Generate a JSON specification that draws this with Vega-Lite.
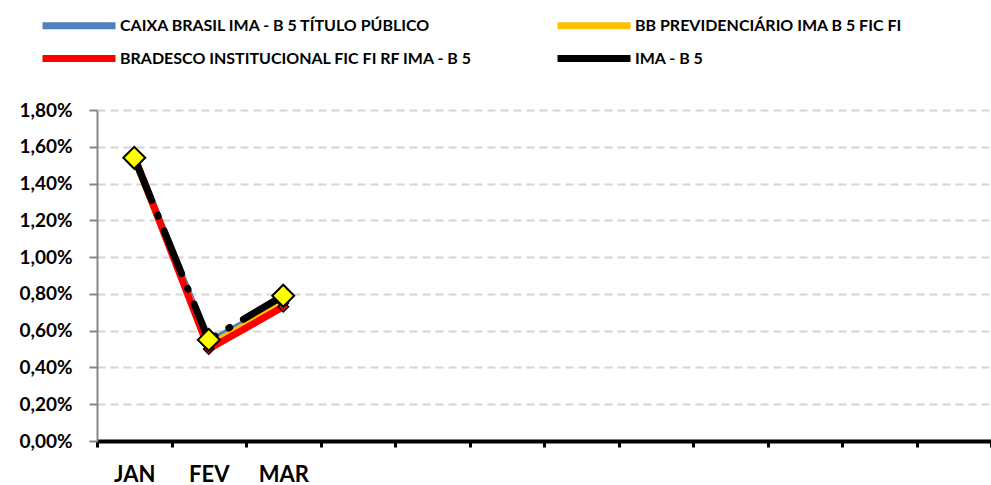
{
  "$schema": "https://vega.github.io/schema/vega-lite/v6.json",
  "width": 894,
  "height": 331,
  "autosize": {"type": "none"},
  "padding": {"left": 97, "top": 110, "right": 0, "bottom": 44},
  "background": "white",
  "config": {
    "view": {"stroke": null},
    "font": "Lato"
  },
  "data": {
    "values": [
      {"month": "JAN", "series": "CAIXA BRASIL IMA - B 5 TÍTULO PÚBLICO", "value": 0.0155},
      {"month": "FEV", "series": "CAIXA BRASIL IMA - B 5 TÍTULO PÚBLICO", "value": 0.0054},
      {"month": "MAR", "series": "CAIXA BRASIL IMA - B 5 TÍTULO PÚBLICO", "value": 0.0076},
      {"month": "JAN", "series": "BB PREVIDENCIÁRIO IMA B 5 FIC FI", "value": 0.0153},
      {"month": "FEV", "series": "BB PREVIDENCIÁRIO IMA B 5 FIC FI", "value": 0.0052},
      {"month": "MAR", "series": "BB PREVIDENCIÁRIO IMA B 5 FIC FI", "value": 0.0075},
      {"month": "JAN", "series": "BRADESCO INSTITUCIONAL FIC FI RF IMA - B 5", "value": 0.0155},
      {"month": "FEV", "series": "BRADESCO INSTITUCIONAL FIC FI RF IMA - B 5", "value": 0.0050},
      {"month": "MAR", "series": "BRADESCO INSTITUCIONAL FIC FI RF IMA - B 5", "value": 0.0073},
      {"month": "JAN", "series": "IMA - B 5", "value": 0.0154},
      {"month": "FEV", "series": "IMA - B 5", "value": 0.0055},
      {"month": "MAR", "series": "IMA - B 5", "value": 0.0079}
    ]
  },
  "encoding": {
    "x": {
      "field": "month",
      "type": "nominal",
      "sort": null,
      "scale": {"domain": ["JAN", "FEV", "MAR", "ABR", "MAI", "JUN", "JUL", "AGO", "SET", "OUT", "NOV", "DEZ"], "paddingInner": 0, "paddingOuter": 0},
      "axis": {
        "title": null,
        "labelAngle": 0,
        "labelExpr": "indexof(['JAN','FEV','MAR'], datum.value) >= 0 ? datum.value : ''",
        "labelFont": "Lato",
        "labelFontWeight": "bold",
        "labelFontSize": 22,
        "labelColor": "#000000",
        "labelPadding": 17,
        "domainColor": "#000000",
        "domainWidth": 4,
        "tickColor": "#000000",
        "tickWidth": 3,
        "tickSize": 6,
        "tickBand": "extent",
        "grid": false
      }
    },
    "y": {
      "field": "value",
      "type": "quantitative",
      "scale": {"domain": [0, 0.018], "nice": false, "zero": true},
      "axis": {
        "title": null,
        "values": [0, 0.002, 0.004, 0.006, 0.008, 0.01, 0.012, 0.014, 0.016, 0.018],
        "labelExpr": "replace(format(datum.value, '.2%'), '.', ',')",
        "labelFont": "Lato",
        "labelFontWeight": "bold",
        "labelFontSize": 19,
        "labelColor": "#000000",
        "labelPadding": 17,
        "domainColor": "#868686",
        "domainWidth": 2,
        "tickColor": "#868686",
        "tickWidth": 2,
        "tickSize": 8,
        "grid": true,
        "gridColor": "#d4d4d4",
        "gridWidth": 2,
        "gridDash": [8, 5]
      }
    }
  },
  "layer": [
    {
      "transform": [{"filter": "datum.series === 'CAIXA BRASIL IMA - B 5 TÍTULO PÚBLICO'"}],
      "mark": {"type": "line", "strokeWidth": 6, "strokeJoin": "round"},
      "encoding": {
        "color": {
          "field": "series",
          "type": "nominal",
          "scale": {
            "domain": ["CAIXA BRASIL IMA - B 5 TÍTULO PÚBLICO", "BB PREVIDENCIÁRIO IMA B 5 FIC FI", "BRADESCO INSTITUCIONAL FIC FI RF IMA - B 5", "IMA - B 5"],
            "range": ["#4F81BD", "#FFC000", "#FF0000", "#000000"]
          },
          "legend": {
            "title": null,
            "orient": "none",
            "legendX": -58,
            "legendY": -98,
            "direction": "horizontal",
            "columns": 2,
            "columnPadding": 70,
            "rowPadding": 4,
            "symbolType": "M-1,0H6.3",
            "symbolSize": 400,
            "symbolStrokeWidth": 7,
            "symbolStrokeCap": "round",
            "symbolOffset": 0,
            "labelFont": "Lato",
            "labelFontWeight": "bold",
            "labelFontSize": 16,
            "labelColor": "#000000",
            "labelOffset": 54,
            "labelLimit": 600
          }
        }
      }
    },
    {
      "transform": [{"filter": "datum.series === 'BB PREVIDENCIÁRIO IMA B 5 FIC FI'"}],
      "mark": {"type": "line", "strokeWidth": 6, "strokeJoin": "round"},
      "encoding": {"color": {"field": "series", "type": "nominal"}}
    },
    {
      "transform": [{"filter": "datum.series === 'BRADESCO INSTITUCIONAL FIC FI RF IMA - B 5'"}],
      "mark": {"type": "line", "strokeWidth": 7, "strokeJoin": "round"},
      "encoding": {"color": {"field": "series", "type": "nominal"}}
    },
    {
      "transform": [{"filter": "datum.series === 'IMA - B 5'"}],
      "mark": {"type": "line", "strokeWidth": 7, "strokeCap": "round", "strokeDash": [46, 16, 1, 16]},
      "encoding": {"color": {"field": "series", "type": "nominal"}}
    },
    {
      "transform": [{"filter": "datum.series !== 'IMA - B 5'"}],
      "mark": {"type": "point", "shape": "diamond", "size": 110, "filled": true, "stroke": "#000000", "strokeWidth": 1.5, "opacity": 1},
      "encoding": {
        "fill": {
          "field": "series",
          "type": "nominal",
          "scale": {
            "domain": ["CAIXA BRASIL IMA - B 5 TÍTULO PÚBLICO", "BB PREVIDENCIÁRIO IMA B 5 FIC FI", "BRADESCO INSTITUCIONAL FIC FI RF IMA - B 5"],
            "range": ["#4F81BD", "#FFC000", "#FF0000"]
          },
          "legend": null
        }
      }
    },
    {
      "transform": [{"filter": "datum.series === 'IMA - B 5'"}],
      "mark": {"type": "point", "shape": "diamond", "size": 480, "filled": true, "fill": "#FFFF00", "stroke": "#000000", "strokeWidth": 2, "opacity": 1}
    }
  ]
}
